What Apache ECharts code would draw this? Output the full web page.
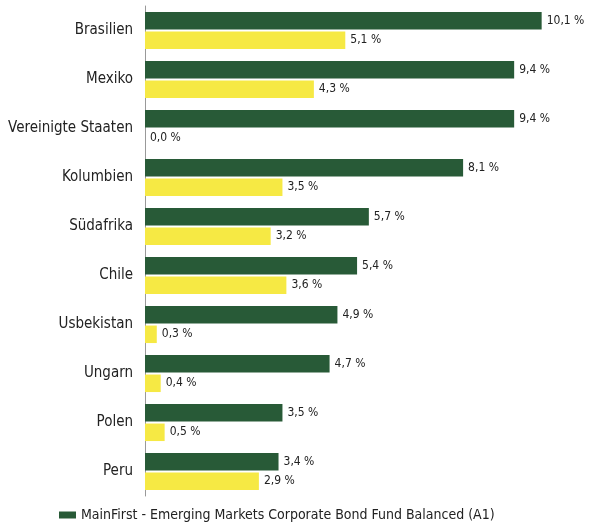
<!DOCTYPE html>
<html><head><meta charset="utf-8">
<script src="https://cdn.jsdelivr.net/npm/echarts@6/dist/echarts.min.js"></script>
<style>html,body{margin:0;padding:0;background:#fff}#c{width:594px;height:522px}</style>
</head><body><div id="c"></div>
<script>
const categories = ["Brasilien","Mexiko","Vereinigte Staaten","Kolumbien","Südafrika","Chile","Usbekistan","Ungarn","Polen","Peru"];
const fundValues = [10.1, 9.4, 9.4, 8.1, 5.7, 5.4, 4.9, 4.7, 3.5, 3.4];
const secondValues = [5.1, 4.3, 0.0, 3.5, 3.2, 3.6, 0.3, 0.4, 0.5, 2.9];
const fundName = "MainFirst - Emerging Markets Corporate Bond Fund Balanced (A1)";

const FONT = "'DejaVu Sans Condensed',sans-serif";
const fmt = p => p.value.toFixed(1).replace('.', ',') + ' %';
const chart = echarts.init(document.getElementById('c'));
chart.setOption({
  animation: false,
  textStyle: {fontFamily: FONT},
  grid: {left: 145, top: 6, width: 432, height: 490},
  legend: {
    data: [{name: fundName, icon: 'rect'}], left: 54, top: 503, itemWidth: 17, itemHeight: 7, itemGap: 10,
    textStyle: {fontFamily: FONT, fontSize: 14, color: '#222'}
  },
  xAxis: {type: 'value', min: 0, max: 11, show: false},
  yAxis: {
    type: 'category', data: categories, inverse: true,
    axisLine: {lineStyle: {color: '#999', width: 1}}, axisTick: {show: false},
    axisLabel: {fontFamily: FONT, fontSize: 15, color: '#222', margin: 12}
  },
  series: [
    {name: fundName, type: 'bar', data: fundValues, barWidth: 17.5, barGap: '12%',
     itemStyle: {color: '#285a37'},
     label: {show: true, position: 'right', distance: 5, formatter: fmt, fontFamily: FONT, fontSize: 12, color: '#222'}},
    {name: 'Vergleich', type: 'bar', data: secondValues, barWidth: 17.5, barGap: '12%',
     itemStyle: {color: '#f6e944'},
     label: {show: true, position: 'right', distance: 5, formatter: fmt, fontFamily: FONT, fontSize: 12, color: '#222'}}
  ]
});
</script></body></html>
